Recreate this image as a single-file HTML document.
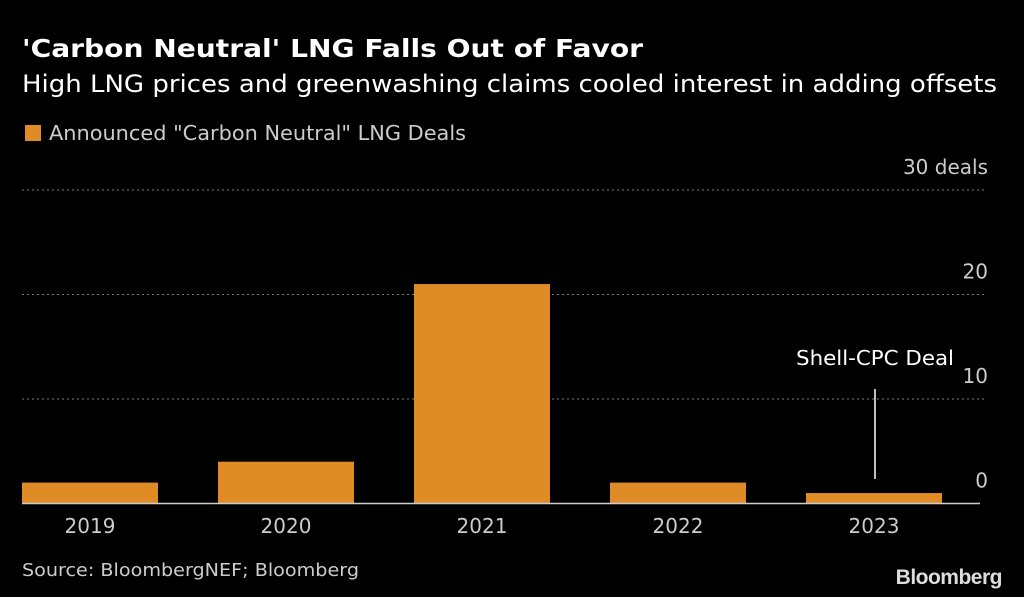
<!DOCTYPE html>
<html><head><meta charset="utf-8"><style>
html,body{margin:0;padding:0;background:#000;}
svg{display:block;font-family:"DejaVu Sans","Liberation Sans",sans-serif;}
</style></head><body>
<svg id="chart" width="1024" height="597" viewBox="0 0 1024 597">
<rect width="1024" height="597" fill="#000"/>
<text x="22" y="57" fill="#fff" font-size="25" font-weight="bold" textLength="621" lengthAdjust="spacingAndGlyphs">'Carbon Neutral' LNG Falls Out of Favor</text>
<text x="22" y="92" fill="#fff" font-size="24" textLength="975" lengthAdjust="spacingAndGlyphs">High LNG prices and greenwashing claims cooled interest in adding offsets</text>
<rect x="25" y="125" width="16" height="16" fill="#e08c26"/>
<text x="49" y="140" fill="#ccc" font-size="20" textLength="417" lengthAdjust="spacingAndGlyphs">Announced "Carbon Neutral" LNG Deals</text>
<g id="grid"></g>
<g id="bars"></g>
<g id="xlabels"></g>
<line x1="22" x2="980" y1="503.5" y2="503.5" stroke="#ccc" stroke-width="1.5"/>
<line x1="875" x2="875" y1="389" y2="479" stroke="#fff" stroke-width="1.5"/>
<text x="875" y="365" fill="#fff" font-size="20" text-anchor="middle" textLength="158" lengthAdjust="spacingAndGlyphs">Shell-CPC Deal</text>
<text x="22" y="576" fill="#ccc" font-size="18" textLength="337" lengthAdjust="spacingAndGlyphs">Source: BloombergNEF; Bloomberg</text>
<text x="1002" y="584" fill="#ddd" font-size="21" font-weight="bold" text-anchor="end" font-family="Liberation Sans, sans-serif" letter-spacing="-0.5">Bloomberg</text>
</svg>
<script>
const categories = ["2019","2020","2021","2022","2023"];
const deals = [2, 4, 21, 2, 1];
const yTicks = [0, 10, 20, 30];
const yTickLabels = ["0","10","20","30 deals"];
const NS="http://www.w3.org/2000/svg";
const y0=503.5, pxPerUnit=10.45;
function y(v){return y0 - v*pxPerUnit;}
const bandStart=22, band=196, barW=136;
function x(i){return bandStart + i*band;}
const grid=document.getElementById('grid');
yTicks.forEach((t,i)=>{
  if(t>0){
    const l=document.createElementNS(NS,'line');
    
    
    l.setAttribute('x1',22);l.setAttribute('x2',985);
    l.setAttribute('y1',y(t));l.setAttribute('y2',y(t));
    l.setAttribute('stroke','#777');l.setAttribute('stroke-dasharray','2,3');
    grid.appendChild(l);
  }
  const tx=document.createElementNS(NS,'text');
  
  
  tx.setAttribute('x',988);tx.setAttribute('y',y(t)-16);
  tx.setAttribute('text-anchor','end');tx.setAttribute('fill','#ccc');tx.setAttribute('font-size','20');
  tx.textContent=yTickLabels[i];
  grid.appendChild(tx);
});
const bars=document.getElementById('bars'), xl=document.getElementById('xlabels');
categories.forEach((c,i)=>{
  const r=document.createElementNS(NS,'rect');
  
  
  r.setAttribute('x',x(i));r.setAttribute('width',barW);
  r.setAttribute('y',y(deals[i]));r.setAttribute('height',y0-y(deals[i]));
  r.setAttribute('fill','#e08c26');
  bars.appendChild(r);
  const t=document.createElementNS(NS,'text');
  
  
  t.setAttribute('x',x(i)+barW/2);t.setAttribute('y',533);
  t.setAttribute('text-anchor','middle');t.setAttribute('fill','#ccc');t.setAttribute('font-size','20');
  t.textContent=c;
  xl.appendChild(t);
});
</script>
</body></html>
